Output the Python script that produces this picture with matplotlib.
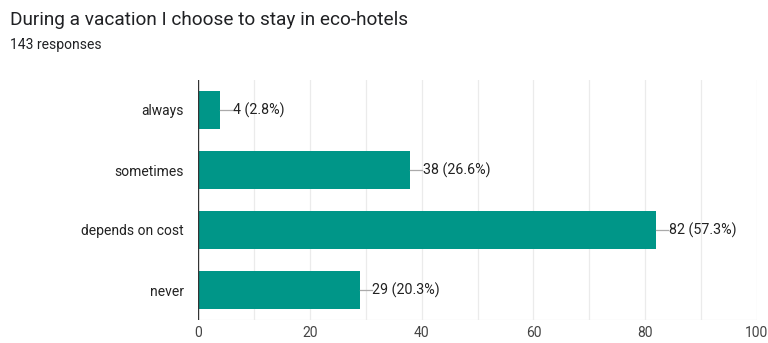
import matplotlib
matplotlib.use("Agg")
import matplotlib.pyplot as plt

categories = ["always", "sometimes", "depends on cost", "never"]
counts = [4, 38, 82, 29]
percents = [2.8, 26.6, 57.3, 20.3]
xticks = [0, 20, 40, 60, 80, 100]

plt.rcParams['font.family'] = ['Roboto', 'DejaVu Sans']

fig = plt.figure(figsize=(7.68, 3.43), dpi=100)
ax = fig.add_axes([198/768, 1-320/343, (757-198)/768, 240/343])

y = list(range(len(categories)))
ax.barh(y, counts, height=0.62, color="#009688", zorder=3)
ax.set_ylim(3.5, -0.5)
ax.set_xlim(0, 100)

for xv in range(10, 101, 10):
    ax.axvline(xv, color="#ebebeb", lw=0.9, zorder=0)
ax.axvline(0, color="#333333", lw=1.0, zorder=4)
ax.axhline(3.5, color="#ebebeb", lw=0.9, zorder=0)

for yi, c, p in zip(y, counts, percents):
    ax.plot([c, c + 2.1], [yi, yi], color="#aaaaaa", lw=0.9, zorder=3, clip_on=False)
    ax.text(c + 2.2, yi, f"{c} ({p}%)", va="center", ha="left", fontsize=10.3, color="#222222")

ax.set_xticks(xticks)
ax.set_xticklabels([str(t) for t in xticks], fontsize=10, color="#444444")
ax.set_yticks(y)
ax.set_yticklabels(categories, fontsize=10, color="#222222")
ax.tick_params(axis="both", length=0)
ax.tick_params(axis="y", pad=10)
ax.tick_params(axis="x", pad=4)
for s in ax.spines.values():
    s.set_visible(False)

fig.text(10/768, 1-20/343, "During a vacation I choose to stay in eco-hotels", fontsize=13.7, color="#202124", va="center", ha="left")
fig.text(10/768, 1-45/343, "143 responses", fontsize=10, color="#202124", va="center", ha="left")

fig.savefig("out.png", dpi=100, facecolor="white")
